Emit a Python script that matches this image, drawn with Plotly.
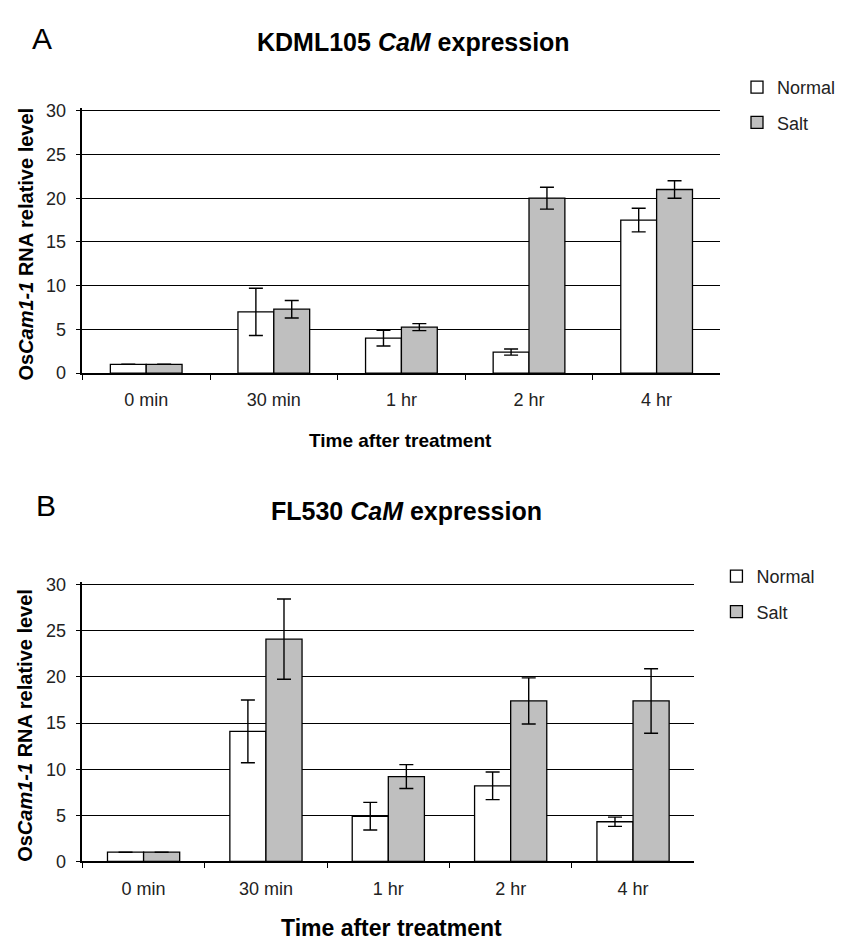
import plotly.graph_objects as go

# Time points after treatment
categories = ["0 min", "30 min", "1 hr", "2 hr", "4 hr"]

# KDML105 OsCam1-1 relative RNA level (mean, error)
kdml_normal = [1.0, 7.0, 4.0, 2.4, 17.5]
kdml_normal_err = [0.0, 2.7, 0.9, 0.35, 1.35]
kdml_salt = [1.0, 7.3, 5.25, 20.0, 21.0]
kdml_salt_err = [0.0, 1.0, 0.4, 1.25, 1.0]

# FL530 OsCam1-1 relative RNA level (mean, error)
fl_normal = [1.0, 14.1, 4.9, 8.2, 4.3]
fl_normal_err = [0.0, 3.4, 1.5, 1.5, 0.5]
fl_salt = [1.0, 24.1, 9.2, 17.4, 17.4]
fl_salt_err = [0.0, 4.35, 1.3, 2.5, 3.5]

y_ticks = [0, 5, 10, 15, 20, 25, 30]

FONT = "Liberation Sans, Arial, sans-serif"
W, H = 841, 950
NORMAL_FILL = "white"
SALT_FILL = "#bfbfbf"
Y_TOP = 30.35  # a little headroom so the gridline at 30 is drawn


def px_x(v):
    return v / W


def px_y(v):
    return 1 - v / H


fig = go.Figure()


def add_pair(normal, normal_err, salt, salt_err, xa, ya, legend, bw):
    common = dict(
        x=categories, xaxis=xa, yaxis=ya, width=bw,
        marker_line=dict(color="black", width=1.3),
        legend=legend,
    )
    fig.add_trace(go.Bar(
        name="Normal", y=normal, offset=-bw, marker_color=NORMAL_FILL,
        legendgroup="n" + legend,
        error_y=dict(type="data", array=normal_err, color="black",
                     thickness=1.4, width=7),
        **common,
    ))
    fig.add_trace(go.Bar(
        name="Salt", y=salt, offset=0, marker_color=SALT_FILL,
        legendgroup="s" + legend,
        error_y=dict(type="data", array=salt_err, color="black",
                     thickness=1.4, width=7),
        **common,
    ))


add_pair(kdml_normal, kdml_normal_err, kdml_salt, kdml_salt_err,
         "x", "y", "legend", 0.281)
add_pair(fl_normal, fl_normal_err, fl_salt, fl_salt_err,
         "x2", "y2", "legend2", 0.295)

xaxis_style = dict(
    type="category", showline=True, linecolor="black", linewidth=1.5,
    ticks="outside", tickson="boundaries", ticklen=5, tickcolor="black",
    tickwidth=1.3, showgrid=False, zeroline=False,
    tickfont=dict(family=FONT, size=18, color="#222"),
    ticklabelstandoff=10, fixedrange=True,
)
yaxis_style = dict(
    range=[0, Y_TOP], tickvals=y_ticks, showline=True, linecolor="black",
    linewidth=1.5, ticks="outside", ticklen=5, tickcolor="black",
    tickwidth=1.3, showgrid=True, gridcolor="black", gridwidth=1.3,
    zeroline=False, tickfont=dict(family=FONT, size=18, color="#222"),
    ticklabelstandoff=6, fixedrange=True,
)

# plot heights in px for 0..30 on each panel
A_BOT, A_30 = 372.7, 105.7
B_BOT, B_30 = 870.0, 588.3
A_TOP = A_BOT - (A_BOT - A_30) * Y_TOP / 30
B_TOP = B_BOT - (B_BOT - B_30) * Y_TOP / 30

fig.update_layout(
    width=W, height=H,
    margin=dict(l=0, r=0, t=0, b=0),
    paper_bgcolor="white", plot_bgcolor="white",
    barmode="overlay",
    font=dict(family=FONT, color="black"),
    xaxis=dict(domain=[px_x(82.7), px_x(723)], anchor="y", **xaxis_style),
    yaxis=dict(domain=[px_y(A_BOT), px_y(A_TOP)], anchor="x", **yaxis_style),
    xaxis2=dict(domain=[px_x(82.7), px_x(696.7)], anchor="y2", **xaxis_style),
    yaxis2=dict(domain=[px_y(B_BOT), px_y(B_TOP)], anchor="x2", **yaxis_style),
    legend=dict(
        x=px_x(740), y=px_y(63), xanchor="left", yanchor="top",
        font=dict(family=FONT, size=18, color="#222"),
        traceorder="grouped", tracegroupgap=9, bgcolor="rgba(0,0,0,0)",
    ),
    legend2=dict(
        x=px_x(719), y=px_y(561), xanchor="left", yanchor="top",
        font=dict(family=FONT, size=18, color="#222"),
        traceorder="grouped", tracegroupgap=9, bgcolor="rgba(0,0,0,0)",
    ),
)

ytitle = "<b>Os<i>Cam1-1</i> RNA relative level</b>"
annotations = [
    dict(text="A", x=px_x(42), y=px_y(32), font=dict(size=30)),
    dict(text="<b>KDML105 <i>CaM</i> expression</b>", x=px_x(415),
         y=px_y(36), font=dict(size=25)),
    dict(text=ytitle, x=px_x(26), y=px_y(241), textangle=-90,
         font=dict(size=20)),
    dict(text="<b>Time after treatment</b>", x=px_x(402), y=px_y(441),
         font=dict(size=19)),
    dict(text="B", x=px_x(46), y=px_y(508), font=dict(size=30)),
    dict(text="<b>FL530 <i>CaM</i> expression</b>", x=px_x(408),
         y=px_y(513), font=dict(size=25)),
    dict(text=ytitle, x=px_x(25), y=px_y(731), textangle=-90,
         font=dict(size=20)),
    dict(text="<b>Time after treatment</b>", x=px_x(393), y=px_y(938),
         font=dict(size=23)),
]
for a in annotations:
    a.update(xref="paper", yref="paper", showarrow=False,
             xanchor="center", yanchor="middle")
    a["font"] = dict(family=FONT, color="black", **a["font"])
fig.update_layout(annotations=annotations)

fig.write_html("out.html")
